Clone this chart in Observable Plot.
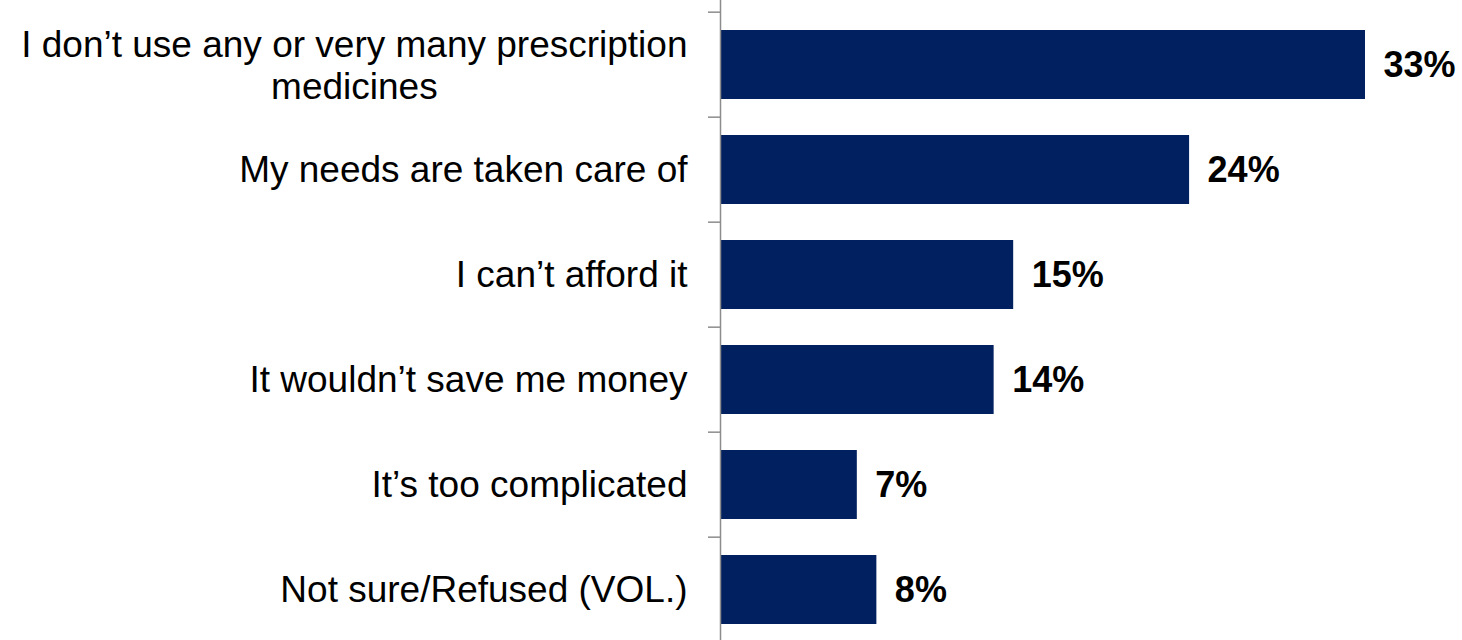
<!DOCTYPE html>
<html>
<head>
<meta charset="utf-8">
<script src="https://cdn.jsdelivr.net/npm/d3@7"></script>
<script src="https://cdn.jsdelivr.net/npm/@observablehq/plot@0.6"></script>
<style>
  html, body { margin: 0; padding: 0; background: #fff; }
  #chart svg { display: block; overflow: visible; }
</style>
</head>
<body>
<div id="chart"></div>
<script>
const categories = [
  "I don\u2019t use any or very many prescription\nmedicines",
  "My needs are taken care of",
  "I can\u2019t afford it",
  "It wouldn\u2019t save me money",
  "It\u2019s too complicated",
  "Not sure/Refused (VOL.)"
];
const values = [33, 24, 15, 14, 7, 8];
const valueLabels = ["33%", "24%", "15%", "14%", "7%", "8%"];

const data = categories.map((c, i) => ({category: c, value: values[i], label: valueLabels[i]}));

const fontFamily = "Liberation Sans, Arial, sans-serif";
const labelSize = 37;
const labelGap = 33;

// measure the widest line of the multi-line label so the block can be centred
const ctx = document.createElement("canvas").getContext("2d");
ctx.font = `${labelSize}px ${fontFamily}`;
const multi = data.filter(d => d.category.includes("\n"));
const single = data.filter(d => !d.category.includes("\n"));
const blockWidth = multi.length ? d3.max(multi[0].category.split("\n"), s => ctx.measureText(s).width) : 0;

const yTop = 10, yBottom = 644;
const step = (yBottom - yTop) / categories.length;

const chart = Plot.plot({
  width: 1462,
  height: 640,
  margin: 0,
  style: {fontFamily, background: "#fff"},
  x: {domain: [0, 33], range: [720, 1365], axis: null},
  y: {domain: categories, range: [yTop, yBottom], paddingInner: 0.34, paddingOuter: 0.17, axis: null},
  marks: [
    Plot.barX(data, {x: "value", y: "category", fill: "#002060"}),
    Plot.ruleX([0], {stroke: "#8c8c8c", strokeWidth: 1.5}),
    Plot.ruleY(categories, {y: d => d, x1: 0, x2: 0, insetLeft: -12, dy: -step / 2, stroke: "#8c8c8c", strokeWidth: 1.5}),
    Plot.text(single, {x: 0, y: "category", text: "category", textAnchor: "end", dx: -labelGap, fontSize: labelSize, fill: "#000"}),
    Plot.text(multi, {x: 0, y: "category", text: "category", textAnchor: "middle", dx: -labelGap - blockWidth / 2, fontSize: labelSize, lineHeight: 1.13, fill: "#000"}),
    Plot.text(data, {x: "value", y: "category", text: "label", textAnchor: "start", dx: 18, fontSize: 36, fontWeight: "bold", fill: "#000"})
  ]
});
document.getElementById("chart").appendChild(chart);
</script>
</body>
</html>
